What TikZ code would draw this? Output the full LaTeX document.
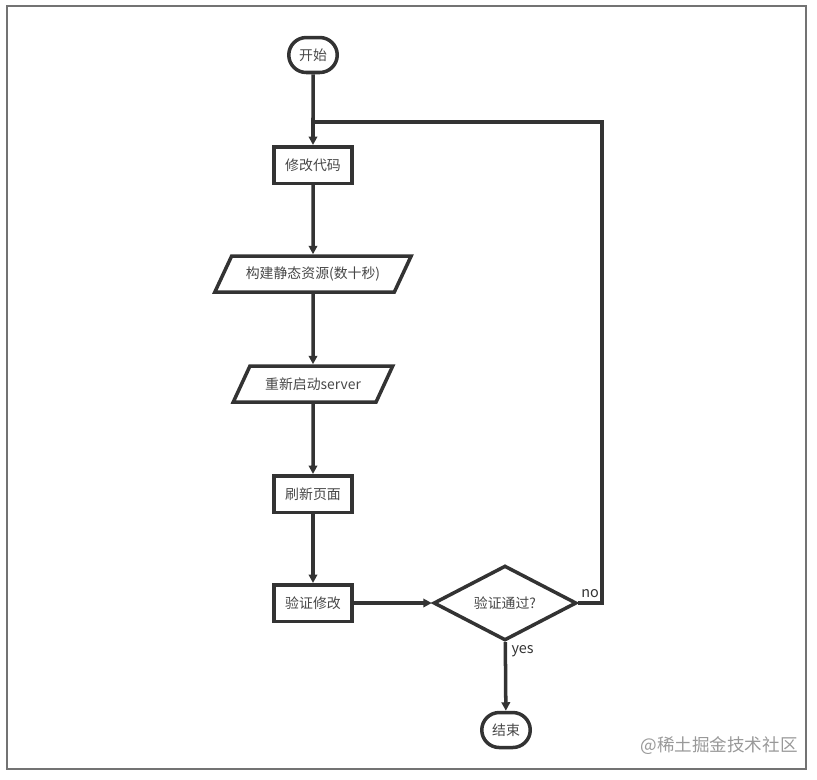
\documentclass[tikz,border=0pt]{standalone}
\usepackage{fontspec}
\setmainfont{Noto Sans CJK SC}
\usetikzlibrary{arrows.meta,shapes.geometric,shapes.misc}
\definecolor{ink}{HTML}{333333}

\begin{document}
\begin{tikzpicture}[x=0.02cm,y=-0.02cm,line width=2pt,draw=ink,every node/.style={font=\fontsize{7.9}{9}\selectfont,text=ink!90},term/.style={draw,rounded rectangle,minimum width=1.04cm,minimum height=.7cm,inner sep=1pt},proc/.style={draw,rectangle,minimum width=1.56cm,minimum height=.73cm},io/.style={draw,trapezium,trapezium left angle=60,trapezium right angle=120,trapezium stretches=true,minimum height=.72cm},check/.style={draw,diamond,minimum width=2.86cm,minimum height=1.44cm,inner sep=0pt},a/.style={-{Triangle[length=1.7mm,width=1.7mm]}},lbl/.style={font=\fontsize{8.2}{9}\selectfont,text=ink}]
\useasboundingbox (0,0) rectangle (817,779);
\draw[line width=.8pt,black!55] (7,6) rectangle (806,769);
\node[term] (start) at (313,55) {开始};
\node[proc] (edit) at (313,165) {修改代码};
\node[io,minimum width=3.96cm] (build) at (313,274) {构建静态资源(数十秒)};
\node[io,minimum width=3.2cm] (restart) at (313,384) {重新启动server};
\node[proc] (refresh) at (313,494) {刷新页面};
\node[proc] (verify) at (313,603) {验证修改};
\node[check] (pass) at (505,603) {验证通过?};
\node[term] (finish) at (506,730) {结束};
\coordinate (join) at (313,122); \coordinate (back) at (602,122);
\draw[a] (start)--(edit); \draw[a] (edit)--(build); \draw[a] (build)--(restart);
\draw[a] (restart)--(refresh); \draw[a] (refresh)--(verify); \draw[a] (verify)--(pass);
\draw (pass.east) -| (back) -- (join);
\draw[a] (pass)--(finish);
\node[lbl] (no) at (590,594) {no};
\node[lbl,anchor=north west,inner sep=1pt] (yes) at ([xshift=.06cm]pass.south) {yes};
\node[font=\fontsize{10}{12}\selectfont,text=black!40] (mark) at (719,746) {@稀土掘金技术社区};
\end{tikzpicture}
\end{document}
